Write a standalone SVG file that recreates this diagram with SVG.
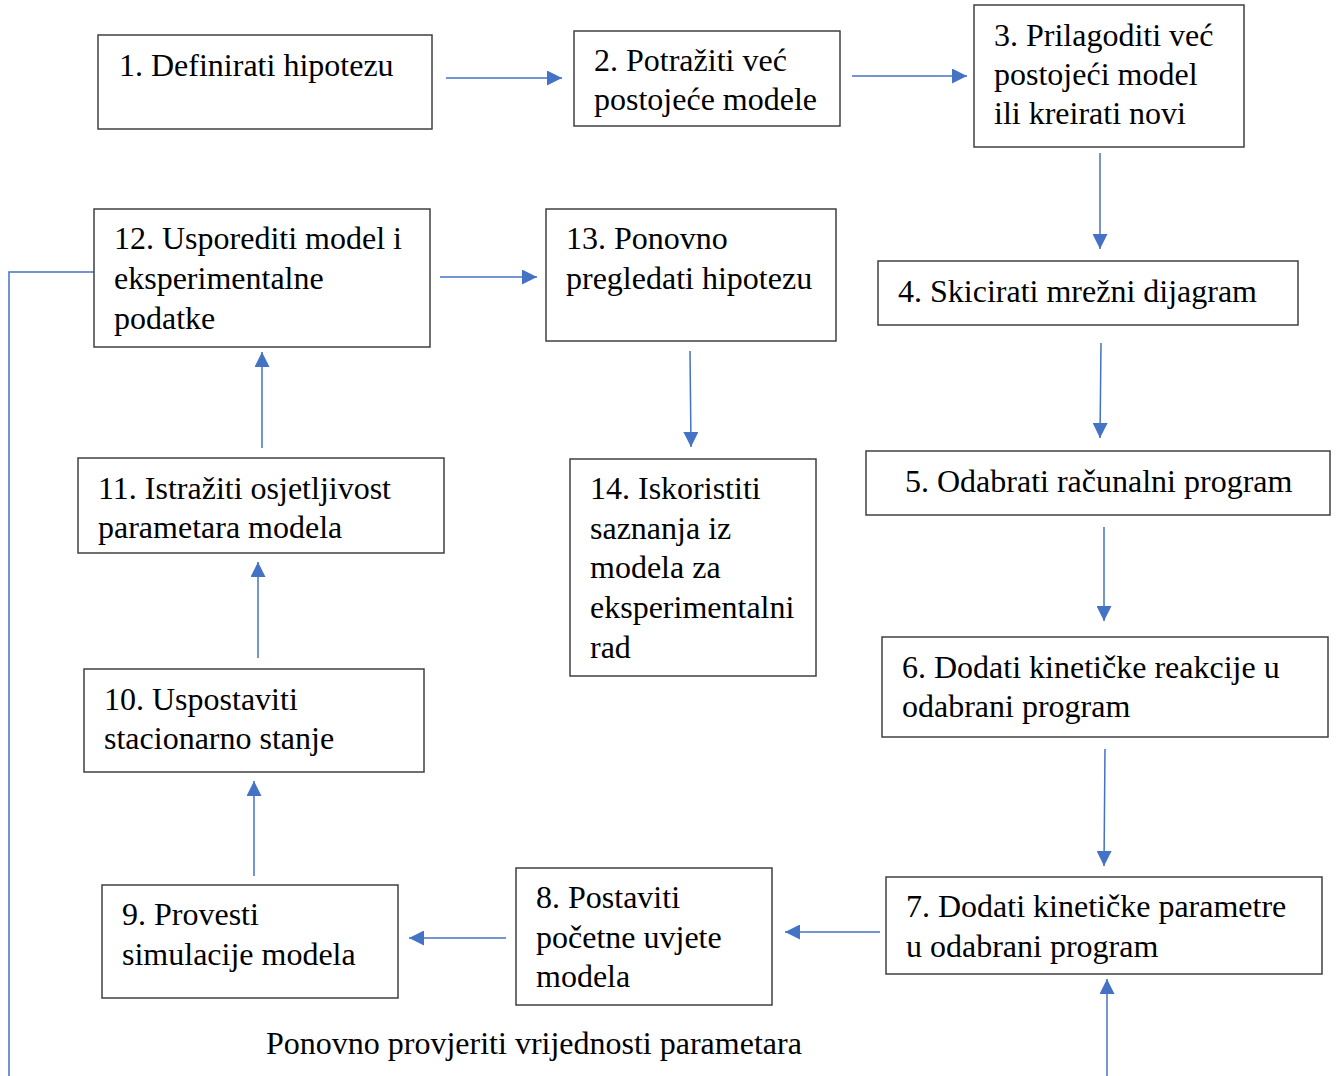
<svg xmlns="http://www.w3.org/2000/svg" width="1338" height="1076" viewBox="0 0 1338 1076">
<defs>
<style>
.box{fill:#fff;stroke:#404040;stroke-width:1.5}
.t{font-family:"Liberation Serif","Times New Roman",serif;font-size:32px;fill:#000}
.c{stroke:#4472C4;stroke-width:1.5;fill:none}
</style>
<marker id="ah" viewBox="0 0 10 10" refX="10" refY="5" markerUnits="userSpaceOnUse" markerWidth="16" markerHeight="15" orient="auto">
<path d="M0,0 L10,5 L0,10 z" fill="#4472C4"/>
</marker>
</defs>
<rect width="1338" height="1076" fill="#fff"/>
<g id="connectors">
<line class="c" x1="446" y1="78" x2="562" y2="78" marker-end="url(#ah)"/>
<line class="c" x1="852" y1="76" x2="967" y2="76" marker-end="url(#ah)"/>
<line class="c" x1="1100" y1="153" x2="1100" y2="249" marker-end="url(#ah)"/>
<line class="c" x1="1101" y1="343" x2="1100" y2="438" marker-end="url(#ah)"/>
<line class="c" x1="1104" y1="527" x2="1104" y2="621" marker-end="url(#ah)"/>
<line class="c" x1="1105" y1="749" x2="1104" y2="866" marker-end="url(#ah)"/>
<line class="c" x1="880" y1="932" x2="785" y2="932" marker-end="url(#ah)"/>
<line class="c" x1="506" y1="938" x2="409" y2="938" marker-end="url(#ah)"/>
<line class="c" x1="254" y1="876" x2="254" y2="781" marker-end="url(#ah)"/>
<line class="c" x1="258" y1="658" x2="258" y2="562" marker-end="url(#ah)"/>
<line class="c" x1="262" y1="448" x2="262" y2="352" marker-end="url(#ah)"/>
<line class="c" x1="440" y1="277" x2="537" y2="277" marker-end="url(#ah)"/>
<line class="c" x1="690" y1="351" x2="691" y2="447" marker-end="url(#ah)"/>
<line class="c" x1="1107" y1="1076" x2="1107" y2="979" marker-end="url(#ah)"/>
<polyline class="c" points="94,272 9,272 9,1076"/>
</g>
<g id="n1"><rect class="box" x="98" y="35" width="334" height="94"/><text class="t" x="119" y="76">1. Definirati hipotezu</text></g>
<g id="n2"><rect class="box" x="574" y="31" width="266" height="95"/><text class="t" x="594" y="71">2. Potražiti već</text><text class="t" x="594" y="110">postojeće modele</text></g>
<g id="n3"><rect class="box" x="974" y="5" width="270" height="142"/><text class="t" x="994" y="46">3. Prilagoditi već</text><text class="t" x="994" y="85">postojeći model</text><text class="t" x="994" y="124">ili kreirati novi</text></g>
<g id="n4"><rect class="box" x="878" y="261" width="420" height="64"/><text class="t" x="898" y="302">4. Skicirati mrežni dijagram</text></g>
<g id="n5"><rect class="box" x="866" y="451" width="464" height="64"/><text class="t" x="905" y="492">5. Odabrati računalni program</text></g>
<g id="n6"><rect class="box" x="882" y="637" width="446" height="100"/><text class="t" x="902" y="678">6. Dodati kinetičke reakcije u</text><text class="t" x="902" y="717">odabrani program</text></g>
<g id="n7"><rect class="box" x="886" y="877" width="436" height="97"/><text class="t" x="906" y="917">7. Dodati kinetičke parametre</text><text class="t" x="906" y="957">u odabrani program</text></g>
<g id="n8"><rect class="box" x="516" y="868" width="256" height="137"/><text class="t" x="536" y="908">8. Postaviti</text><text class="t" x="536" y="948">početne uvjete</text><text class="t" x="536" y="987">modela</text></g>
<g id="n9"><rect class="box" x="102" y="885" width="296" height="113"/><text class="t" x="122" y="925">9. Provesti</text><text class="t" x="122" y="965">simulacije modela</text></g>
<g id="n10"><rect class="box" x="84" y="669" width="340" height="103"/><text class="t" x="104" y="710">10. Uspostaviti</text><text class="t" x="104" y="749">stacionarno stanje</text></g>
<g id="n11"><rect class="box" x="78" y="458" width="366" height="95"/><text class="t" x="98" y="499">11. Istražiti osjetljivost</text><text class="t" x="98" y="538">parametara modela</text></g>
<g id="n12"><rect class="box" x="94" y="209" width="336" height="138"/><text class="t" x="114" y="249">12. Usporediti model i</text><text class="t" x="114" y="289">eksperimentalne</text><text class="t" x="114" y="329">podatke</text></g>
<g id="n13"><rect class="box" x="546" y="209" width="290" height="132"/><text class="t" x="566" y="249">13. Ponovno</text><text class="t" x="566" y="289">pregledati hipotezu</text></g>
<g id="n14"><rect class="box" x="570" y="459" width="246" height="217"/><text class="t" x="590" y="499">14. Iskoristiti</text><text class="t" x="590" y="539">saznanja iz</text><text class="t" x="590" y="578">modela za</text><text class="t" x="590" y="618">eksperimentalni</text><text class="t" x="590" y="658">rad</text></g>
<text class="t" x="266" y="1054">Ponovno provjeriti vrijednosti parametara</text>
</svg>
